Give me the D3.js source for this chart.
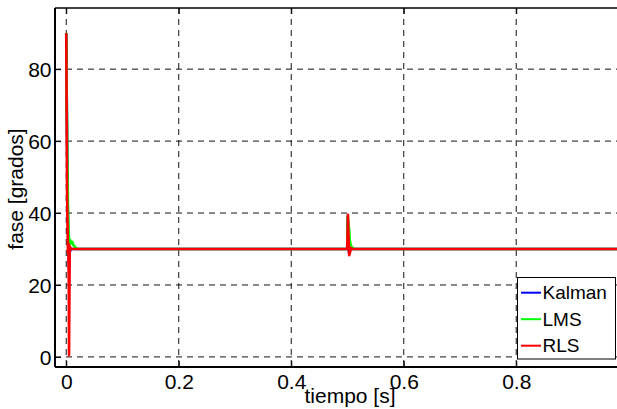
<!DOCTYPE html>
<html>
<head>
<meta charset="utf-8">
<script src="https://cdn.jsdelivr.net/npm/d3@7"></script>
<style>
  html, body { margin: 0; padding: 0; background: #fff; overflow: hidden; }
  svg { display: block; font-family: "Liberation Sans", Arial, Helvetica, sans-serif; }
</style>
</head>
<body>
<svg id="chart" width="617" height="409"></svg>
<script>
// ---- data ----
const xTicks = [0, 0.2, 0.4, 0.6, 0.8];
const xTickLabels = ["0", "0.2", "0.4", "0.6", "0.8"];
const yTicks = [0, 20, 40, 60, 80];
const yTickLabels = ["0", "20", "40", "60", "80"];
const seriesNames = ["Kalman", "LMS", "RLS"];
const seriesColors = ["#0000ff", "#00ff00", "#ff0000"];

const kalmanT = [0, 0.001, 0.002, 0.003, 0.004, 0.005, 0.006, 0.008, 0.4995, 0.5005, 0.502, 0.5028, 0.504, 0.506, 1.03];
const kalmanV = [90, 70, 52, 38, 30, 24.5, 29, 30, 30, 39, 30, 28.8, 29.6, 30, 30];

const lmsT = [0, 0.001, 0.002, 0.003, 0.004, 0.005, 0.006, 0.007, 0.009, 0.011, 0.013, 0.016, 0.02, 0.4995, 0.5005, 0.5015, 0.503, 0.504, 0.506, 0.508, 0.512, 1.03];
const lmsV = [90, 70, 55, 42, 35, 32.5, 31.5, 32.5, 31.5, 32, 31, 30.5, 30, 30, 39, 37, 35.5, 32.5, 31, 30.5, 30, 30];

const rlsT = [0, 0.0015, 0.003, 0.0038, 0.0045, 0.005, 0.0062, 0.0075, 0.01, 0.4995, 0.5008, 0.502, 0.503, 0.5045, 0.506, 0.508, 1.03];
const rlsV = [90, 45, 29, 31.5, 20, 0.5, 30.8, 30.3, 30, 30, 39.5, 33, 28.3, 29, 30.3, 30, 30];

// ---- layout ----
const svg = d3.select("#chart");
const mLeft = 55, mTop = 8, mBottom = 367, mRight = 645.6;
const x = d3.scaleLinear().domain([-0.02, 1.03]).range([mLeft, mRight]);
const y = d3.scaleLinear().domain([-2.8, 97]).range([mBottom, mTop]);

// grid
const grid = svg.append("g");
grid.selectAll(".vg").data(xTicks).enter().append("line")
  .attr("x1", d => x(d)).attr("x2", d => x(d))
  .attr("y1", mTop).attr("y2", mBottom)
  .attr("stroke", "#111").attr("stroke-width", 1).attr("stroke-dasharray", "6,5");
grid.selectAll(".hg").data(yTicks).enter().append("line")
  .attr("x1", mLeft).attr("x2", mRight)
  .attr("y1", d => y(d)).attr("y2", d => y(d))
  .attr("stroke", "#111").attr("stroke-width", 1).attr("stroke-dasharray", "6,5");

// series
const line = d3.line().x(d => x(d[0])).y(d => y(d[1]));
const allSeries = [
  d3.zip(kalmanT, kalmanV),
  d3.zip(lmsT, lmsV),
  d3.zip(rlsT, rlsV)
];
allSeries.forEach((s, i) => {
  svg.append("path").datum(s)
    .attr("d", line)
    .attr("fill", "none")
    .attr("stroke", seriesColors[i])
    .attr("stroke-width", 2.6)
    .attr("stroke-linejoin", "round");
});

// axes
const xAxisBottom = d3.axisBottom(x).tickValues(xTicks).tickSize(-6).tickFormat((d, i) => xTickLabels[i]);
const xAxisTop = d3.axisTop(x).tickValues(xTicks).tickSize(-6).tickFormat("");
const yAxisLeft = d3.axisLeft(y).tickValues(yTicks).tickSize(-6).tickFormat((d, i) => yTickLabels[i]);

const gx = svg.append("g").attr("transform", `translate(0,${mBottom})`).call(xAxisBottom);
gx.select(".domain").remove();
gx.selectAll("line").attr("stroke", "#000").attr("stroke-width", 1);
gx.selectAll("text").attr("y", 22).attr("dy", 0).attr("font-size", 21)
  .attr("font-family", "Liberation Sans, Arial, sans-serif").attr("fill", "#000");

const gxt = svg.append("g").attr("transform", `translate(0,${mTop})`).call(xAxisTop);
gxt.select(".domain").remove();
gxt.selectAll("line").attr("stroke", "#000").attr("stroke-width", 1);

const gy = svg.append("g").attr("transform", `translate(${mLeft},0)`).call(yAxisLeft);
gy.select(".domain").remove();
gy.selectAll("line").attr("stroke", "#000").attr("stroke-width", 1);
gy.selectAll("text").attr("x", -3.5).attr("dy", "0.36em").attr("font-size", 21)
  .attr("font-family", "Liberation Sans, Arial, sans-serif").attr("fill", "#000");

// box
svg.append("line").attr("x1", mLeft).attr("x2", mRight).attr("y1", mTop).attr("y2", mTop)
  .attr("stroke", "#000").attr("stroke-width", 1.5);
svg.append("line").attr("x1", mLeft).attr("x2", mRight).attr("y1", mBottom).attr("y2", mBottom)
  .attr("stroke", "#000").attr("stroke-width", 2);
svg.append("line").attr("x1", mLeft).attr("x2", mLeft).attr("y1", mTop).attr("y2", mBottom)
  .attr("stroke", "#000").attr("stroke-width", 2);

// axis titles
svg.append("text").attr("x", 350).attr("y", 403).attr("text-anchor", "middle")
  .attr("font-size", 21).attr("fill", "#000").text("tiempo [s]");
svg.append("text").attr("transform", "translate(22.5,189) rotate(-90)").attr("text-anchor", "middle")
  .attr("font-size", 21).attr("fill", "#000").text("fase [grados]");

// legend
const lg = svg.append("g");
lg.append("rect").attr("x", 517.5).attr("y", 277.5).attr("width", 98).attr("height", 81.5)
  .attr("fill", "#fff").attr("stroke", "#000").attr("stroke-width", 1);
const legY = [292.7, 319.2, 345.7];
seriesNames.forEach((n, i) => {
  lg.append("line").attr("x1", 521).attr("x2", 541).attr("y1", legY[i]).attr("y2", legY[i])
    .attr("stroke", seriesColors[i]).attr("stroke-width", 2);
  lg.append("text").attr("x", 542.5).attr("y", legY[i] + 6.5)
    .attr("font-size", 19).attr("fill", "#000").text(n);
});
</script>
</body>
</html>
